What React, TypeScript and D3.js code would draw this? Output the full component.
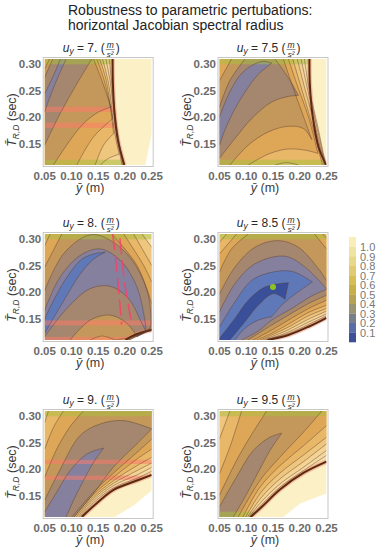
import React from 'react'
import * as d3 from 'd3'

type Pt = number[]
type Contour = { level: number, pieces: Pt[][] }

// plot corners, used to close a sublevel region along the frame
const TL = [[0.05, 0.31]]
const TR = [[0.25, 0.31]]
const BL = [[0.05, 0.11]]

const xTicks = [0.05, 0.1, 0.15, 0.2, 0.25]
const yTicks = [0.15, 0.2, 0.25, 0.3]
const levels = [0.1, 0.2, 0.3, 0.4, 0.5, 0.6, 0.7, 0.8, 0.9, 0.95, 1.0]
const levelColors = ['#3a4f9a', '#5f78b8', '#86809f', '#a5876f', '#c4985a', '#dea758', '#e8b768', '#efc67e', '#f4d394', '#f6d9a0', '#f8dfaa']
const legendTicks = [0.1, 0.2, 0.3, 0.4, 0.5, 0.6, 0.7, 0.8, 0.9, 1.0]
const legendColors = ['#3f4f96', '#5a6ea5', '#77808a', '#9a9570', '#b5a255', '#c8b048', '#d6be55', '#e0cb70', '#e8d88a', '#efe4a0', '#f8eeb8']

const contours7: Contour[] = [
  { level: 0.3, pieces: [[[0.05, 0.2444], [0.0663, 0.2788], [0.0794, 0.31]], [[0.09, 0.31], [0.0725, 0.2706], [0.0588, 0.2356], [0.05, 0.21]]] },
  { level: 0.4, pieces: [[[0.05, 0.2756], [0.065, 0.31]], [[0.1381, 0.31], [0.11, 0.2631], [0.0788, 0.2069], [0.05, 0.1475]]] },
  { level: 0.5, pieces: [[[0.05, 0.2913], [0.0588, 0.31]], [[0.1413, 0.31], [0.1569, 0.2694], [0.1738, 0.2194]], [[0.1738, 0.2194], [0.1506, 0.21], [0.1225, 0.1881], [0.0975, 0.1569], [0.0663, 0.11]], BL] },
  { level: 0.6, pieces: [TL, [[0.1475, 0.31], [0.1613, 0.2694], [0.1775, 0.1975]], [[0.1775, 0.1975], [0.1413, 0.1631], [0.11, 0.11]], BL] },
  { level: 0.7, pieces: [TL, [[0.1525, 0.31], [0.165, 0.2694], [0.1788, 0.1694]], [[0.1788, 0.1694], [0.16, 0.1475], [0.1444, 0.11]], BL] },
  { level: 0.8, pieces: [TL, [[0.1581, 0.31], [0.1694, 0.2631], [0.18, 0.1756], [0.1894, 0.1306]], [[0.1894, 0.1306], [0.1694, 0.1225], [0.1538, 0.11]], BL] },
  { level: 0.9, pieces: [TL, [[0.1644, 0.31], [0.1731, 0.2631], [0.1819, 0.1881], [0.1944, 0.11]], BL] },
  { level: 0.95, pieces: [TL, [[0.1706, 0.31], [0.1756, 0.2631], [0.1838, 0.1881], [0.1963, 0.11]], BL] },
  { level: 1, pieces: [TL, [[0.1769, 0.31], [0.1775, 0.2631], [0.1806, 0.2069], [0.1869, 0.1569], [0.1988, 0.11]], BL] },
]

const contours75: Contour[] = [
  { level: 0.3, pieces: [[[0.05, 0.2006], [0.066, 0.241], [0.088, 0.279], [0.11, 0.2975], [0.132, 0.3056], [0.1475, 0.302]], [[0.1475, 0.302], [0.1225, 0.281], [0.0975, 0.2475], [0.0756, 0.21], [0.06, 0.1756], [0.05, 0.1475]]] },
  { level: 0.4, pieces: [[[0.05, 0.2194], [0.0694, 0.2694], [0.0975, 0.31]], [[0.1538, 0.31], [0.163, 0.2975], [0.182, 0.2694], [0.1975, 0.2413]], [[0.1975, 0.2413], [0.179, 0.2394], [0.1475, 0.2288], [0.11, 0.1975], [0.0788, 0.16], [0.05, 0.1225]]] },
  { level: 0.5, pieces: [[[0.05, 0.2694], [0.0725, 0.31]], [[0.1694, 0.31], [0.185, 0.2631], [0.205, 0.2069], [0.2225, 0.1581]], [[0.2225, 0.1581], [0.2069, 0.1788], [0.1788, 0.1831], [0.1413, 0.1725], [0.1038, 0.1475], [0.0694, 0.11]], BL] },
  { level: 0.6, pieces: [TL, [[0.1788, 0.31], [0.1944, 0.2631], [0.2163, 0.2006], [0.2338, 0.1319]], [[0.2338, 0.1319], [0.21, 0.1381], [0.1756, 0.14], [0.1413, 0.1306], [0.1038, 0.11]], BL] },
  { level: 0.7, pieces: [TL, [[0.1869, 0.31], [0.2025, 0.2569], [0.2225, 0.1881], [0.2425, 0.11]], [[0.1975, 0.11], [0.1756, 0.1144], [0.1538, 0.11]], BL] },
  { level: 0.8, pieces: [TL, [[0.1956, 0.31], [0.2088, 0.2569], [0.2275, 0.1881], [0.2456, 0.11]], BL] },
  { level: 0.9, pieces: [TL, [[0.2025, 0.31], [0.2138, 0.2569], [0.2306, 0.1881], [0.2475, 0.11]], BL] },
  { level: 0.95, pieces: [TL, [[0.2088, 0.31], [0.2169, 0.2569], [0.2325, 0.1881], [0.2485, 0.11]], BL] },
  { level: 1, pieces: [TL, [[0.2181, 0.31], [0.2188, 0.2631], [0.2244, 0.2006], [0.235, 0.1444], [0.2494, 0.11]], BL] },
]

const contours8: Contour[] = [
  { level: 0.2, pieces: [[[0.05, 0.15], [0.0663, 0.1844], [0.0913, 0.2281], [0.1194, 0.2625], [0.1444, 0.2731], [0.1631, 0.2756]], [[0.1631, 0.2756], [0.1413, 0.2625], [0.1163, 0.2344], [0.0913, 0.1938], [0.0694, 0.1563], [0.05, 0.1225]]] },
  { level: 0.3, pieces: [[[0.05, 0.1663], [0.0788, 0.2288], [0.1163, 0.2694], [0.1538, 0.2819], [0.1913, 0.26], [0.2225, 0.21], [0.2381, 0.1413], [0.2394, 0.1256]], [[0.2394, 0.1256], [0.2288, 0.1475], [0.2069, 0.1881], [0.1725, 0.2113], [0.135, 0.2069], [0.0913, 0.1694], [0.05, 0.1163]]] },
  { level: 0.4, pieces: [[[0.05, 0.2038], [0.085, 0.2725], [0.1288, 0.3069], [0.1538, 0.3069], [0.2038, 0.2725], [0.2413, 0.2038], [0.2475, 0.135], [0.2425, 0.1269]], [[0.2425, 0.1269], [0.2225, 0.1163]], [[0.2225, 0.1163], [0.2038, 0.1413], [0.1725, 0.1569], [0.135, 0.1475], [0.0975, 0.11]], BL] },
  { level: 0.5, pieces: [[[0.05, 0.2475], [0.0819, 0.31]], [[0.1756, 0.31], [0.2225, 0.2506], [0.25, 0.1788]], [[0.25, 0.135], [0.2263, 0.1194], [0.1819, 0.11]], [[0.1819, 0.11], [0.1569, 0.1175], [0.135, 0.11]], BL] },
  { level: 0.6, pieces: [[[0.05, 0.2881], [0.06, 0.31]], [[0.1975, 0.31], [0.235, 0.2506], [0.25, 0.2194]], [[0.25, 0.1319], [0.2263, 0.1213], [0.2025, 0.11]], BL] },
  { level: 0.7, pieces: [TL, [[0.2163, 0.31], [0.25, 0.2506]], [[0.25, 0.1306], [0.2063, 0.11]], BL] },
  { level: 0.8, pieces: [TL, [[0.2319, 0.31], [0.25, 0.285]], [[0.25, 0.13], [0.2081, 0.11]], BL] },
  { level: 1, pieces: [TL, TR, [[0.25, 0.1288], [0.2194, 0.12], [0.2006, 0.11]], BL] },
]

const contours85: Contour[] = [
  { level: 0.1, pieces: [[[0.05, 0.1131], [0.0788, 0.1506], [0.1038, 0.185], [0.135, 0.21], [0.1788, 0.2181]], [[0.1788, 0.2181], [0.1725, 0.1869]], [[0.1725, 0.1869], [0.1506, 0.1975], [0.1225, 0.1756], [0.0975, 0.1444], [0.0694, 0.11]], BL] },
  { level: 0.2, pieces: [[[0.05, 0.135], [0.0788, 0.1819], [0.11, 0.2225], [0.1488, 0.2381], [0.1863, 0.2394], [0.2238, 0.2194]], [[0.2238, 0.2194], [0.1925, 0.1975], [0.1694, 0.1788], [0.1475, 0.1538]], [[0.1475, 0.1538], [0.1225, 0.1475], [0.0975, 0.1319], [0.0788, 0.11]], BL] },
  { level: 0.3, pieces: [[[0.05, 0.1631], [0.0788, 0.2163], [0.1163, 0.2538], [0.1725, 0.2681], [0.21, 0.2475], [0.25, 0.2069]], [[0.25, 0.2056], [0.2225, 0.1931], [0.185, 0.1694], [0.1475, 0.1475], [0.1225, 0.1269], [0.0913, 0.11]], BL] },
  { level: 0.4, pieces: [[[0.05, 0.1969], [0.0788, 0.2475], [0.1163, 0.285], [0.16, 0.2975], [0.1975, 0.285], [0.235, 0.2444], [0.25, 0.2225]], [[0.25, 0.1944], [0.2163, 0.1788], [0.1788, 0.1569], [0.1475, 0.1381], [0.1031, 0.11]], BL] },
  { level: 0.5, pieces: [[[0.05, 0.2381], [0.0725, 0.2819], [0.1038, 0.31]], [[0.2275, 0.31], [0.25, 0.2819]], [[0.25, 0.185], [0.2163, 0.1694], [0.1788, 0.1475], [0.1475, 0.1288], [0.1131, 0.11]], BL] },
  { level: 0.6, pieces: [[[0.05, 0.2725], [0.0819, 0.31]], [[0.2431, 0.31], [0.25, 0.3019]], [[0.25, 0.1756], [0.2163, 0.1619], [0.1788, 0.14], [0.1475, 0.1225], [0.1194, 0.11]], BL] },
  { level: 0.7, pieces: [[[0.05, 0.2944], [0.0631, 0.31]], TR, [[0.25, 0.1694], [0.2163, 0.1556], [0.1788, 0.1344], [0.1475, 0.1194], [0.1256, 0.11]], BL] },
  { level: 0.8, pieces: [TL, TR, [[0.25, 0.1644], [0.2163, 0.1494], [0.1788, 0.1294], [0.1475, 0.1163], [0.13, 0.11]], BL] },
  { level: 0.9, pieces: [TL, TR, [[0.25, 0.1594], [0.2163, 0.1438], [0.1788, 0.125], [0.1475, 0.1138], [0.1338, 0.11]], BL] },
  { level: 0.95, pieces: [TL, TR, [[0.25, 0.1556], [0.2163, 0.1394], [0.1788, 0.1219], [0.1369, 0.11]], BL] },
  { level: 1, pieces: [TL, TR, [[0.25, 0.1519], [0.2163, 0.135], [0.1788, 0.1194], [0.14, 0.11]], BL] },
]

const contours9: Contour[] = [
  { level: 0.3, pieces: [[[0.05, 0.1194], [0.0725, 0.1569], [0.0975, 0.1975], [0.1288, 0.2288], [0.16, 0.24]], [[0.16, 0.24], [0.1413, 0.2131], [0.1225, 0.1788], [0.1038, 0.1413], [0.09, 0.11]], BL] },
  { level: 0.4, pieces: [[[0.05, 0.1419], [0.0781, 0.1981], [0.1163, 0.2638], [0.1538, 0.2856], [0.1975, 0.2919], [0.25, 0.2763]], [[0.25, 0.2763], [0.2225, 0.2481], [0.1788, 0.2044], [0.1413, 0.1544], [0.105, 0.11]], BL] },
  { level: 0.5, pieces: [[[0.05, 0.185], [0.0725, 0.2381], [0.0975, 0.2806], [0.1225, 0.31]], TR, [[0.25, 0.2569], [0.2225, 0.2319], [0.1788, 0.1931], [0.1413, 0.1569], [0.1006, 0.11]], BL] },
  { level: 0.6, pieces: [[[0.05, 0.2381], [0.0663, 0.2788], [0.085, 0.31]], TR, [[0.25, 0.2381], [0.2225, 0.2194], [0.1788, 0.185], [0.1413, 0.1525], [0.105, 0.11]], BL] },
  { level: 0.7, pieces: [[[0.05, 0.2881], [0.0569, 0.31]], TR, [[0.25, 0.2225], [0.2225, 0.2069], [0.1788, 0.1788], [0.1413, 0.1481], [0.1088, 0.11]], BL] },
  { level: 0.8, pieces: [TL, TR, [[0.25, 0.2119], [0.2225, 0.1975], [0.1788, 0.1738], [0.1413, 0.1444], [0.1119, 0.11]], BL] },
  { level: 0.9, pieces: [TL, TR, [[0.25, 0.2038], [0.2225, 0.1894], [0.1788, 0.1694], [0.1413, 0.1406], [0.1144, 0.11]], BL] },
  { level: 0.95, pieces: [TL, TR, [[0.25, 0.1963], [0.2225, 0.1831], [0.1788, 0.165], [0.1413, 0.1369], [0.1169, 0.11]], BL] },
  { level: 1, pieces: [TL, TR, [[0.25, 0.1894], [0.2225, 0.1788], [0.1788, 0.1613], [0.1413, 0.1306], [0.1194, 0.11]], BL] },
]

const contours95: Contour[] = [
  { level: 0.4, pieces: [[[0.05, 0.1294], [0.0819, 0.1856], [0.1131, 0.2356], [0.1444, 0.2606], [0.1663, 0.2681]], [[0.1663, 0.2681], [0.1444, 0.2356], [0.1194, 0.1888], [0.0944, 0.1419], [0.0756, 0.11]], BL] },
  { level: 0.5, pieces: [[[0.05, 0.1513], [0.0819, 0.2169], [0.1069, 0.2606], [0.1381, 0.31]], [[0.2413, 0.31], [0.2069, 0.27], [0.1631, 0.2231], [0.1256, 0.1788], [0.085, 0.11]], BL] },
  { level: 0.6, pieces: [[[0.05, 0.1919], [0.0694, 0.2419], [0.0913, 0.31]], TR, [[0.25, 0.2825], [0.2069, 0.2444], [0.1631, 0.2069], [0.1256, 0.1663], [0.0938, 0.11]], BL] },
  { level: 0.7, pieces: [[[0.05, 0.2575], [0.0694, 0.31]], TR, [[0.25, 0.2606], [0.2069, 0.2269], [0.1631, 0.1931], [0.1288, 0.1581], [0.0988, 0.11]], BL] },
  { level: 0.8, pieces: [TL, TR, [[0.25, 0.2481], [0.2069, 0.2144], [0.1631, 0.1819], [0.1288, 0.1475], [0.1025, 0.11]], BL] },
  { level: 0.9, pieces: [TL, TR, [[0.25, 0.2356], [0.2069, 0.2038], [0.1631, 0.1725], [0.1288, 0.1394], [0.105, 0.11]], BL] },
  { level: 0.95, pieces: [TL, TR, [[0.25, 0.2263], [0.2069, 0.1975], [0.1631, 0.1663], [0.1288, 0.1331], [0.1069, 0.11]], BL] },
  { level: 1, pieces: [TL, TR, [[0.25, 0.2144], [0.2069, 0.1931], [0.1631, 0.1619], [0.1288, 0.1288], [0.1081, 0.11]], BL] },
]

// pale area past the stability boundary; its left part is hidden under the contour fills
const pale7 = [[0.05, 0.31], [0.25, 0.31], [0.25, 0.17], [0.2381, 0.11], [0.05, 0.11]]
const pale75 = [[0.05, 0.31], [0.25, 0.31], [0.25, 0.11], [0.05, 0.11]]
const pale9 = [[0.05, 0.31], [0.25, 0.31], [0.25, 0.16], [0.2163, 0.1319], [0.1806, 0.11], [0.05, 0.11]]
const pale95 = [[0.05, 0.31], [0.25, 0.31], [0.25, 0.1544], [0.2006, 0.1356], [0.1694, 0.11], [0.05, 0.11]]

// yellow-green strips along the frame and the salmon streaks of the source image
const strips7 = [[0.3, 0.31], [0.11, 0.12]]
const strips75 = [[0.3, 0.31], [0.11, 0.12]]
const strips8 = [[0.3, 0.31]]
const strips85 = [[0.3, 0.31]]
const strips9 = [[0.3, 0.31]]
const strips95 = [[0.3, 0.31], [0.11, 0.12]]
const bands7 = [[0.21, 0.22], [0.18, 0.19]]
const bands8 = [[0.1375, 0.147], [0.11, 0.116]]
const bands9 = [[0.21, 0.218], [0.18, 0.188]]
const streaks8 = [[[0.1769, 0.31], [0.1813, 0.2769], [0.1894, 0.1894], [0.1938, 0.1394]], [[0.1906, 0.3019], [0.2, 0.2144], [0.2113, 0.1488]]]
const greenDot = [[0.15, 0.21]]

const panels = [
  { uy: '7.', left: 44.7, bottom: 165, contours: contours7, pale: pale7, strips: strips7, bands: bands7, streaks: [], dot: [] },
  { uy: '7.5', left: 219.5, bottom: 165, contours: contours75, pale: pale75, strips: strips75, bands: [], streaks: [], dot: [] },
  { uy: '8.', left: 44.7, bottom: 340, contours: contours8, pale: null, strips: strips8, bands: bands8, streaks: streaks8, dot: [] },
  { uy: '8.5', left: 219.5, bottom: 340, contours: contours85, pale: null, strips: strips85, bands: [], streaks: [], dot: greenDot },
  { uy: '9.', left: 44.7, bottom: 517, contours: contours9, pale: pale9, strips: strips9, bands: bands9, streaks: [], dot: [] },
  { uy: '9.5', left: 219.5, bottom: 517, contours: contours95, pale: pale95, strips: strips95, bands: [], streaks: [], dot: [] },
]

const plotW = 107
const plotH = 106
const tickFont = 'Liberation Sans, Arial, sans-serif'

const levelColor = d3.scaleLinear<string>().domain(levels).range(levelColors)

function Panel({ p, i }: any) {
  const x = d3.scaleLinear().domain([0.05, 0.25]).range([p.left, p.left + plotW])
  const y = d3.scaleLinear().domain([0.11, 0.31]).range([p.bottom, p.bottom - plotH])
  const curve = d3.line().x(d => x(d[0])).y(d => y(d[1])).curve(d3.curveCatmullRom.alpha(0.5))
  const poly = d3.line().x(d => x(d[0])).y(d => y(d[1]))

  // one closed outline out of the pieces, joined along the frame
  const outline = (c: Contour) => {
    let first = true
    const d = c.pieces.map(piece => {
      const s = (curve(piece as any) as string).replace('Z', '')
      if (first) { first = false; return s }
      return s.replace('M', 'L')
    }).join('')
    return d + 'Z'
  }

  const sorted = [...p.contours].sort((a, b) => d3.descending(a.level, b.level))
  const outer = sorted[0]
  const top = p.bottom - plotH
  const titleEnd = p.left + (p.uy.length > 2 ? 66 : 60)

  return (
    <g>
      <defs>
        <clipPath id={'plot' + i}><rect x={p.left} y={top} width={plotW} height={plotH} /></clipPath>
        <clipPath id={'outer' + i}><path d={outline(outer)} /></clipPath>
      </defs>
      <g clipPath={`url(#plot${i})`}>
        {p.pale && <path d={poly(p.pale) + 'Z'} fill="#fbf0c6" />}
        {sorted.map((c, j) => <path key={j} d={outline(c)} fill={levelColor(c.level)} />)}
        <g clipPath={`url(#outer${i})`}>
          {p.strips.map((s, j) => (
            <rect key={j} x={p.left} y={y(s[1])} width={plotW} height={y(s[0]) - y(s[1])} fill="#a8c03c" opacity={0.5} />
          ))}
          {p.bands.map((b, j) => (
            <rect key={j} x={p.left} y={y(b[1])} width={plotW} height={y(b[0]) - y(b[1])} fill="#ff7a6a" opacity={0.5} />
          ))}
        </g>
        {sorted.map((c, j) => c.pieces.filter(piece => piece.length > 1).map((piece, k) => (
          <g key={j + '-' + k}>
            {c.level === 1 && <path d={curve(piece as any) as string} fill="none" stroke="#f0806a" strokeWidth={4.5} opacity={0.45} />}
            <path d={curve(piece as any) as string} fill="none"
              stroke={c.level === 1 ? '#5a2a10' : '#5c4030'}
              strokeWidth={c.level === 1 ? 2 : 0.7}
              strokeOpacity={c.level === 1 ? 1 : 0.65} />
          </g>
        )))}
        {p.streaks.map((s, j) => (
          <path key={j} d={curve(s as any) as string} fill="none" stroke="#f8406a" strokeWidth={1.6} strokeDasharray="16 6" opacity={0.85} />
        ))}
        {p.dot.map((d, j) => <circle key={j} cx={x(d[0])} cy={y(d[1])} r={3} fill="#8fc31f" />)}
      </g>
      <rect x={p.left - 1.5} y={top - 1.5} width={plotW + 3} height={plotH + 3} fill="none" stroke="#c9c6c6" strokeWidth={1} />

      {xTicks.map(t => (
        <text key={t} x={x(t)} y={p.bottom + 15} textAnchor="middle" fontSize={11.5} fontWeight="bold" fill="#6b6b6b" fontFamily={tickFont}>{d3.format('.2f')(t)}</text>
      ))}
      {yTicks.map(t => (
        <text key={t} x={p.left - 3.5} y={y(t) + 4} textAnchor="end" fontSize={11.5} fontWeight="bold" fill="#6b6b6b" fontFamily={tickFont}>{d3.format('.2f')(t)}</text>
      ))}

      <text x={p.left + plotW / 2 - 8} y={p.bottom + 27} textAnchor="middle" fontSize={12.5} fill="#3a3a3a" fontFamily={tickFont}>
        <tspan fontStyle="italic">ȳ</tspan> (m)
      </text>
      <text transform={`translate(${p.left - 28.7},${p.bottom - plotH / 2 + 8}) rotate(-90)`} textAnchor="middle" fontSize={12.5} fill="#3a3a3a" fontFamily={tickFont}>
        <tspan fontStyle="italic">T̄</tspan><tspan fontStyle="italic" fontSize={8.5} dy={2.5}>R,D</tspan><tspan dy={-2.5}> (sec)</tspan>
      </text>

      <text x={titleEnd} y={top - 7.4} textAnchor="end" fontSize={12} fill="#2a2a2a" fontFamily={tickFont}>
        <tspan fontStyle="italic">u</tspan><tspan fontStyle="italic" fontSize={8.5} dy={2.5}>y</tspan><tspan dy={-2.5}> = {p.uy} (</tspan>
      </text>
      <text x={titleEnd + 5.5} y={top - 11.5} textAnchor="middle" fontSize={8.5} fontStyle="italic" fill="#2a2a2a" fontFamily={tickFont}>m</text>
      <line x1={titleEnd + 1} x2={titleEnd + 10} y1={top - 9.5} y2={top - 9.5} stroke="#2a2a2a" strokeWidth={0.5} />
      <text x={titleEnd + 5.5} y={top - 2.5} textAnchor="middle" fontSize={8} fontStyle="italic" fill="#2a2a2a" fontFamily={tickFont}>s²</text>
      <text x={titleEnd + 11} y={top - 7.4} fontSize={12} fill="#2a2a2a" fontFamily={tickFont}>)</text>
    </g>
  )
}

function Legend() {
  const y = d3.scaleLinear().domain([0, 1.1]).range([342, 237])
  return (
    <g>
      {legendColors.map((c, i) => (
        <rect key={i} x={349} y={y((i + 1) / 10)} width={7} height={y(i / 10) - y((i + 1) / 10) + 0.3} fill={c} />
      ))}
      {legendTicks.map(t => (
        <text key={t} x={360} y={y(t) + 4.5} fontSize={11} fill="#777" fontFamily={tickFont}>{d3.format('.1f')(t)}</text>
      ))}
    </g>
  )
}

export default function App() {
  return (
    <svg width={380} height={550} style={{ position: 'absolute', left: 0, top: 0, background: '#fff' }}>
      <text x={68} y={14.7} fontSize={14} fill="#222" fontFamily={tickFont}>Robustness to parametric pertubations:</text>
      <text x={68} y={30} fontSize={14} fill="#222" fontFamily={tickFont}>horizontal Jacobian spectral radius</text>
      {panels.map((p, i) => <Panel key={i} p={p} i={i} />)}
      <Legend />
    </svg>
  )
}
